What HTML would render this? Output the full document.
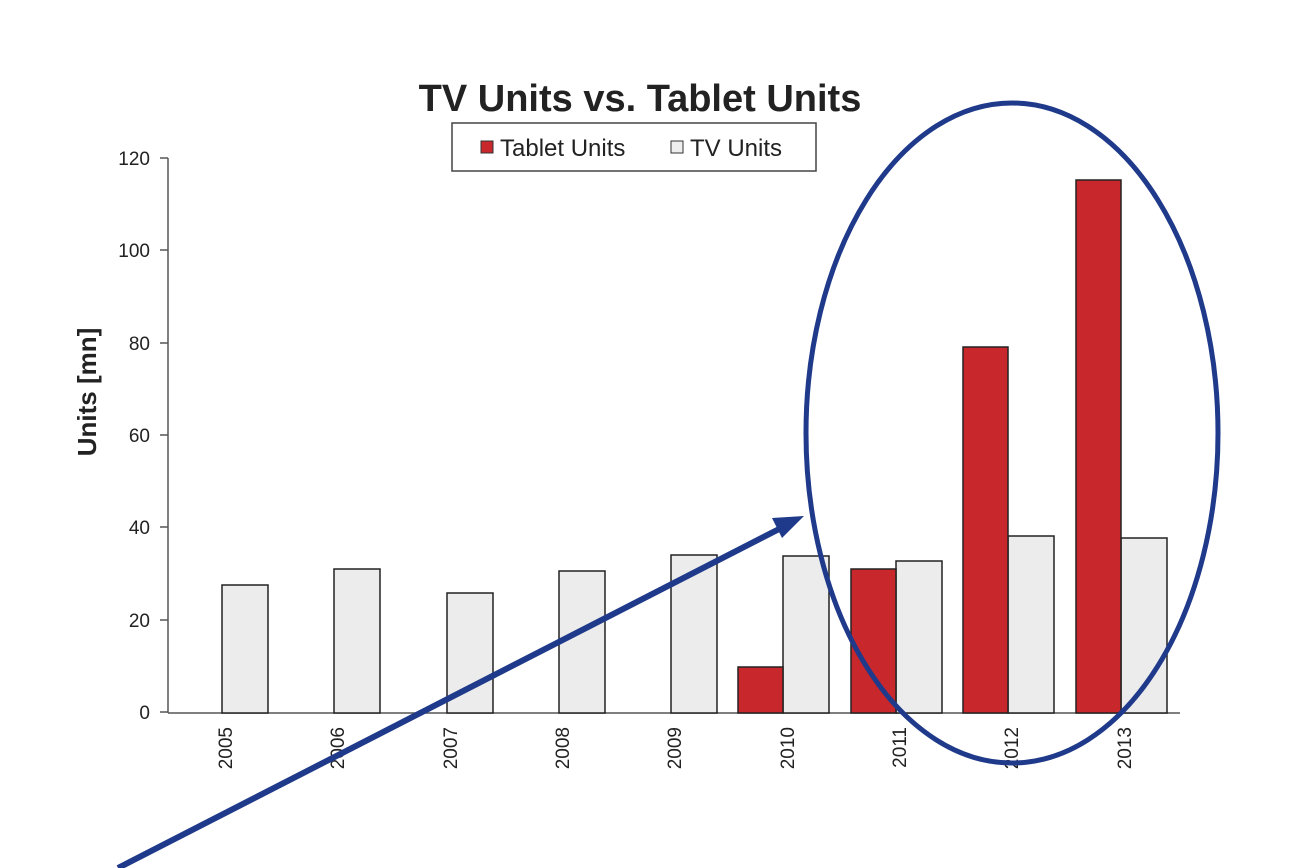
<!DOCTYPE html>
<html><head><meta charset="utf-8"><style>
html,body{margin:0;padding:0;background:#fff}
svg{display:block}
text{font-family:"Liberation Sans",Arial,sans-serif;fill:#222}
</style></head><body>
<svg width="1291" height="868" viewBox="0 0 1291 868" xmlns="http://www.w3.org/2000/svg">
<rect width="1291" height="868" fill="#fff"/>
<text x="640" y="111" font-size="38" font-weight="bold" text-anchor="middle">TV Units vs. Tablet Units</text>
<rect x="452" y="123" width="364" height="48" fill="#fff" stroke="#444" stroke-width="1.5"/>
<rect x="481" y="141" width="12" height="12" fill="#c8282c" stroke="#333"/>
<text x="500" y="156" font-size="24">Tablet Units</text>
<rect x="671" y="141" width="12" height="12" fill="#eee" stroke="#333"/>
<text x="690" y="156" font-size="24">TV Units</text>
<text transform="translate(96,392) rotate(-90)" font-size="26" font-weight="bold" text-anchor="middle">Units [mn]</text>
<g font-size="19" text-anchor="end">
<text x="150" y="719">0</text><text x="150" y="627">20</text><text x="150" y="534">40</text>
<text x="150" y="442">60</text><text x="150" y="350">80</text><text x="150" y="257">100</text><text x="150" y="165">120</text>
</g>
<g stroke="#555" stroke-width="1.5">
<line x1="168" y1="158" x2="168" y2="713"/>
<line x1="168" y1="713" x2="1180" y2="713"/>
<line x1="160" y1="158" x2="168" y2="158"/><line x1="160" y1="250" x2="168" y2="250"/>
<line x1="160" y1="343" x2="168" y2="343"/><line x1="160" y1="435" x2="168" y2="435"/>
<line x1="160" y1="527" x2="168" y2="527"/><line x1="160" y1="620" x2="168" y2="620"/>
<line x1="160" y1="712" x2="168" y2="712"/>
</g>
<g stroke="#222" stroke-width="1.5" fill="#ececec">
<rect x="222" y="585" width="46" height="128"/>
<rect x="334" y="569" width="46" height="144"/>
<rect x="447" y="593" width="46" height="120"/>
<rect x="559" y="571" width="46" height="142"/>
<rect x="671" y="555" width="46" height="158"/>
<rect x="783" y="556" width="46" height="157"/>
<rect x="896" y="561" width="46" height="152"/>
<rect x="1008" y="536" width="46" height="177"/>
<rect x="1121" y="538" width="46" height="175"/>
</g>
<g stroke="#222" stroke-width="1.5" fill="#c8282c">
<rect x="738" y="667" width="45" height="46"/>
<rect x="851" y="569" width="45" height="144"/>
<rect x="963" y="347" width="45" height="366"/>
<rect x="1076" y="180" width="45" height="533"/>
</g>
<g font-size="19" text-anchor="end">
<text transform="translate(232,727) rotate(-90)">2005</text>
<text transform="translate(344,727) rotate(-90)">2006</text>
<text transform="translate(457,727) rotate(-90)">2007</text>
<text transform="translate(569,727) rotate(-90)">2008</text>
<text transform="translate(681,727) rotate(-90)">2009</text>
<text transform="translate(794,727) rotate(-90)">2010</text>
<text transform="translate(906,727) rotate(-90)">2011</text>
<text transform="translate(1018,727) rotate(-90)">2012</text>
<text transform="translate(1131,727) rotate(-90)">2013</text>
</g>
<ellipse cx="1012" cy="433" rx="206" ry="330" fill="none" stroke="#1f3a8a" stroke-width="5"/>
<line x1="118" y1="868" x2="785" y2="526" stroke="#1f3a8a" stroke-width="6"/>
<polygon points="804,516 772,518 782,538" fill="#1f3a8a"/>
</svg>
</body></html>
